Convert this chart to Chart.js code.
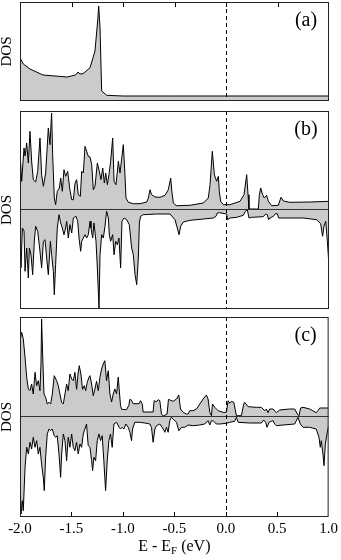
<!DOCTYPE html>
<html>
<head>
<meta charset="utf-8">
<script src="https://cdn.jsdelivr.net/npm/chart.js@4"></script>
<style>
  html, body { margin: 0; padding: 0; background: #fff; }
  #wrap { position: relative; width: 341px; height: 560px; overflow: hidden; }
  .panel { position: absolute; left: 0; width: 341px; }
</style>
</head>
<body>
<div id="wrap">
  <div class="panel" style="top:0"><canvas id="dosA" width="341" height="103"></canvas></div>
  <div class="panel" style="top:108px"><canvas id="dosB" width="341" height="202"></canvas></div>
  <div class="panel" style="top:314px"><canvas id="dosC" width="341" height="246"></canvas></div>
</div>
<script>
// x axis (eV)
const xTicks = [-2.0, -1.5, -1.0, -0.5, 0.0, 0.5, 1.0];
const fermiLevel = 0.0;
const panelLabels = ['(a)', '(b)', '(c)'];

// (a) single channel DOS
const aE   = [-2.0, -1.968, -1.903, -1.777, -1.544, -1.46, -1.437, -1.42, -1.388, -1.32, -1.272, -1.246, -1.236, -1.223, -1.207, -1.158, -1.0, -0.5, 0.0, 0.5, 1.0];
const aDos = [43, 37, 32, 26, 24, 26, 29, 27, 27.3, 33.3, 50, 80, 95, 73, 10, 5.7, 5, 5, 5, 5, 5];

// (b) spin up / spin down
const bUpE = [-2.000,-1.984,-1.961,-1.951,-1.935,-1.919,-1.903,-1.887,-1.871,-1.848,-1.828,-1.806,-1.790,-1.773,-1.751,-1.725,-1.709,-1.693,-1.683,-1.667,
  -1.654,-1.638,-1.618,-1.605,-1.589,-1.573,-1.557,-1.537,-1.518,-1.498,-1.482,-1.466,-1.450,-1.434,-1.414,-1.401,-1.385,-1.369,-1.353,-1.337,
  -1.320,-1.304,-1.288,-1.272,-1.249,-1.230,-1.214,-1.197,-1.181,-1.168,-1.152,-1.136,-1.120,-1.100,-1.087,-1.068,-1.045,-1.029,-1.013,-0.997,
  -0.981,-0.971,-0.948,-0.900,-0.835,-0.770,-0.754,-0.738,-0.722,-0.689,-0.641,-0.592,-0.560,-0.537,-0.524,-0.511,-0.495,-0.479,-0.350,-0.220,
  -0.172,-0.155,-0.133,-0.113,-0.091,-0.074,-0.065,-0.052,-0.026,0.039,0.136,0.175,0.201,0.214,0.223,0.314,0.324,0.337,0.356,0.372,
  0.395,0.411,0.443,0.508,0.534,0.557,0.621,0.816,1.000];
const bUp = [57.7,27.7,61,53,66,46,77.7,48,29.3,27,37.7,71,34.3,22.7,36,81,64.3,96,54.3,11,
  4.3,17.7,21,31,17.7,39.3,32.7,37.7,21,9.3,9.3,25.7,29.3,14.3,12.7,37.7,36,62.7,57.7,52.7,
  52,44.3,19.3,22.7,46,37.7,29.3,41,26,36,24.3,34.3,47.7,71,27.7,24.3,47.7,36,50,64.3,
  34.3,11,6.7,5.3,5.3,7,11,19.3,14.3,12,11.7,13.7,19.3,31,16,6,4.3,3.3,3.7,6,
  11,24.3,57.7,34.3,27.7,32.7,17.7,7.7,4.3,4.3,7.7,14.3,34.3,14.3,0,0,14.3,21,14.3,11,
  13.7,7.7,3.3,3.7,11.7,8,6.7,7,7.7];
const bDnE = [-2.000,-1.990,-1.977,-1.961,-1.951,-1.935,-1.919,-1.909,-1.893,-1.877,-1.861,-1.848,-1.828,-1.806,-1.790,-1.773,-1.757,-1.741,-1.725,-1.705,
  -1.693,-1.676,-1.667,-1.654,-1.638,-1.621,-1.605,-1.589,-1.573,-1.557,-1.547,-1.531,-1.515,-1.498,-1.482,-1.456,-1.440,-1.427,-1.411,-1.401,
  -1.385,-1.369,-1.353,-1.337,-1.320,-1.311,-1.294,-1.282,-1.262,-1.249,-1.233,-1.223,-1.207,-1.191,-1.175,-1.159,-1.142,-1.133,-1.120,-1.100,
  -1.087,-1.071,-1.055,-1.039,-1.023,-1.010,-0.990,-0.964,-0.939,-0.916,-0.900,-0.883,-0.867,-0.851,-0.841,-0.829,-0.803,-0.673,-0.544,-0.495,
  -0.473,-0.456,-0.440,-0.414,-0.350,-0.220,-0.123,-0.097,-0.084,-0.065,0.006,0.016,0.039,0.104,0.168,0.188,0.207,0.223,0.249,0.362,
  0.385,0.401,0.414,0.427,0.460,0.479,0.498,0.511,0.557,0.751,0.880,0.919,0.938,0.951,0.968,0.984,0.997,1.000];
const bDn = [-22.3,-58.7,-19,-22,-62.3,-39,-69,-39,-46,-65.7,-32.3,-17.3,-22.3,-42.3,-59,-32.3,-30.7,-49,-65.7,-32.3,
  -45.7,-62.3,-85.7,-55.7,-19,-5.7,-14,-19,-25.7,-19,-12.3,-29,-15.7,-24,-9,-7.3,-12.3,-29,-42.3,-32.3,
  -29,-25.7,-29,-25.7,-12.3,-19,-29,-14,-32.3,-59,-99,-45.7,-25.7,-29,-17.3,-2.3,-9,-25.7,-32.3,-25.7,
  -45.7,-32.3,-35.7,-29,-59,-12.3,-9,-10.7,-15.7,-39,-45.7,-65.7,-75.7,-49,-14,-7.3,-5.7,-5,-5,-10.7,
  -19,-25.7,-17.3,-13,-11.3,-10,-9,-7.3,-4,-3.7,-5,-10.7,-9,-8.3,-6.3,-2.3,-0.7,-9,-8.3,-7.7,
  -5,-5.7,-10.7,-9,-7.3,-4.7,-4.7,-9,-9,-9,-10.7,-14.7,-27.3,-17.3,-12.3,-32.3,-52.3,-60];

// (c) spin up / spin down
const cUpE = [-2.000,-1.984,-1.968,-1.951,-1.935,-1.919,-1.903,-1.887,-1.871,-1.854,-1.838,-1.822,-1.806,-1.796,-1.790,-1.780,-1.767,-1.751,-1.735,-1.718,
  -1.702,-1.686,-1.667,-1.644,-1.628,-1.612,-1.595,-1.579,-1.563,-1.547,-1.531,-1.515,-1.498,-1.482,-1.466,-1.450,-1.434,-1.424,-1.408,-1.392,
  -1.375,-1.362,-1.346,-1.330,-1.320,-1.304,-1.288,-1.272,-1.256,-1.239,-1.223,-1.207,-1.191,-1.175,-1.159,-1.142,-1.126,-1.110,-1.094,-1.078,
  -1.061,-1.045,-1.036,-1.023,-1.013,-0.964,-0.942,-0.932,-0.916,-0.900,-0.841,-0.829,-0.812,-0.803,-0.706,-0.696,-0.673,-0.657,-0.641,-0.625,
  -0.608,-0.570,-0.557,-0.537,-0.511,-0.479,-0.456,-0.440,-0.414,-0.382,-0.366,-0.350,-0.317,-0.285,-0.252,-0.220,-0.188,-0.172,-0.155,-0.139,
  -0.129,-0.107,-0.074,-0.026,0.006,0.023,0.039,0.055,0.078,0.091,0.104,0.152,0.175,0.184,0.217,0.298,0.346,0.379,0.395,0.411,
  0.427,0.460,0.492,0.524,0.621,0.670,0.696,0.712,0.728,0.751,0.816,0.880,0.896,0.913,1.000];
const cUp = [75.3,83.7,77,58.7,38.7,27,25.3,32,22,43.7,30.3,35.3,25.3,52,97,62,22,18.7,12,13.7,
  12,22,40.3,35.3,30.3,22,13.7,12,22,32,25.3,42,37,35.3,43.7,26.7,44,50.3,42,26.7,
  30.3,25.3,33.7,38.7,40.3,32,20.3,27,34.7,25.3,38.7,47,52,55.3,35.3,45.3,22,14,22,27,
  22,39,27,10.7,6.7,6.3,10.7,16.7,15.7,12.3,12.3,15.3,12.3,4,4,15.3,14.3,16.3,15.3,2,
  0,2,16.7,15.7,14.7,17,21,7,3.7,2,2,5.3,5.3,7,12,17,21,17,3.7,0.3,
  12,8.7,5.3,3.7,3.7,15.3,12.7,14.7,13.7,7,0.3,0.3,12,13.7,9.3,8.7,8.7,5.3,7,3.3,
  7,7,3.3,6,7,7,2,0.3,8,8.7,7,3.3,5.3,8,8];
const cDnE = [-2.000,-1.990,-1.977,-1.968,-1.951,-1.935,-1.919,-1.903,-1.887,-1.871,-1.854,-1.838,-1.822,-1.806,-1.790,-1.773,-1.764,-1.751,-1.735,-1.718,
  -1.702,-1.686,-1.667,-1.654,-1.638,-1.621,-1.605,-1.595,-1.579,-1.563,-1.547,-1.531,-1.515,-1.498,-1.482,-1.466,-1.450,-1.434,-1.417,-1.401,
  -1.385,-1.369,-1.353,-1.337,-1.320,-1.304,-1.294,-1.282,-1.265,-1.249,-1.233,-1.217,-1.201,-1.185,-1.168,-1.152,-1.136,-1.120,-1.104,-1.087,
  -1.061,-1.036,-1.023,-1.007,-0.990,-0.971,-0.948,-0.932,-0.916,-0.906,-0.884,-0.835,-0.786,-0.738,-0.722,-0.706,-0.689,-0.673,-0.641,-0.608,
  -0.592,-0.576,-0.560,-0.544,-0.528,-0.511,-0.479,-0.456,-0.430,-0.398,-0.366,-0.317,-0.252,-0.204,-0.172,-0.155,-0.139,-0.123,-0.091,-0.058,
  0.006,0.039,0.087,0.104,0.120,0.233,0.346,0.369,0.388,0.401,0.421,0.443,0.460,0.476,0.492,0.557,0.670,0.702,0.725,0.751,
  0.816,0.880,0.906,0.919,0.929,0.945,0.955,0.968,0.984,0.997];
const cDn = [-58,-98,-84.7,-94.7,-51.3,-31.3,-38,-26.3,-33,-21.3,-31.3,-24.7,-38,-31.3,-48,-62,-74.7,-41.3,-18,-13,
  -14.7,-13,-19.7,-21.3,-19.7,-38,-61.3,-38,-18,-24.7,-44.7,-21.3,-31.3,-18,-31.3,-34.7,-26.3,-38,-28,-31.3,
  -18,-13,-8,-29.7,-31.3,-44.7,-54.7,-41.3,-44.7,-24.7,-18,-24.7,-19.7,-44.7,-74.7,-44.7,-24.7,-18,-31.3,-8,
  -6.3,-11.3,-13,-11.3,-13,-8,-11.3,-16.3,-24.7,-13,-6.3,-6.3,-7,-8,-11.3,-26.3,-13,-9.7,-8,-13,
  -16.3,-11.3,-16.3,-4.7,-1.3,-3,-6.3,-14.7,-11.3,-11.3,-9,-9.7,-9,-8,-4.7,-9,-4.7,-4.7,-8,-8,
  -7.3,-6.3,-5.3,-1.3,-6.3,-7,-7,-4,-6.3,-11.3,-6.3,-5.3,-4.7,-8,-9.7,-9,-8,-1.3,-8,-11.3,
  -11.3,-13,-21.3,-31.3,-24.7,-38,-49.7,-28,-18,-11.3];

const serif = '"Liberation Serif", "DejaVu Serif", serif';
const fillGray = '#cbcbcb';

const toPts = (es, vs) => es.map((e, i) => ({ x: e, y: vs[i] }));

function dosSet(es, vs) {
  return {
    data: toPts(es, vs),
    borderColor: '#000',
    borderWidth: 1,
    borderJoinStyle: 'round',
    backgroundColor: fillGray,
    fill: 'origin',
    pointRadius: 0,
    tension: 0
  };
}

// rangka panel: tick ke dalam, garis nol, garis Fermi putus-putus, label
const panelDecor = {
  id: 'panelDecor',
  beforeDatasetsDraw(chart, args, opts) {
    const { ctx, chartArea: a, scales: { x } } = chart;
    ctx.save();
    ctx.strokeStyle = '#000';
    ctx.lineWidth = 1;
    xTicks.forEach(v => {
      if (v <= x.min || v >= x.max) return;
      const px = Math.round(x.getPixelForValue(v)) + 0.5;
      ctx.beginPath();
      if (opts.ticksTop)    { ctx.moveTo(px, a.top);    ctx.lineTo(px, a.top + 5); }
      if (opts.ticksBottom) { ctx.moveTo(px, a.bottom); ctx.lineTo(px, a.bottom - 5); }
      ctx.stroke();
    });
    ctx.restore();
  },
  afterDatasetsDraw(chart, args, opts) {
    const { ctx, chartArea: a, scales: { x, y } } = chart;
    ctx.save();
    ctx.strokeStyle = '#000';
    ctx.lineWidth = 1;

    if (opts.zeroLine) {
      const y0 = Math.round(y.getPixelForValue(0)) + 0.5;
      ctx.strokeStyle = '#333';
      ctx.beginPath();
      ctx.moveTo(a.left, y0); ctx.lineTo(a.right, y0);
      ctx.stroke();
      ctx.strokeStyle = '#000';
    }

    const xf = Math.round(x.getPixelForValue(fermiLevel)) + 0.5;
    ctx.setLineDash([4, 3]);
    ctx.beginPath();
    ctx.moveTo(xf, a.top); ctx.lineTo(xf, a.bottom);
    ctx.stroke();
    ctx.setLineDash([]);

    ctx.strokeStyle = '#222';
    ctx.strokeRect(a.left + 0.5, a.top + 0.5, a.right - a.left - 1, a.bottom - a.top - 1);

    if (opts.label) {
      ctx.fillStyle = '#000';
      ctx.font = '20px ' + serif;
      ctx.textAlign = 'center';
      ctx.textBaseline = 'middle';
      ctx.fillText(opts.label, a.right - 23, a.top + 19);
    }

    // judul sumbu x dengan subskrip F
    if (opts.xTitle) {
      const main = '16px ' + serif, sub = '11px ' + serif;
      const p1 = 'E - E', p2 = 'F', p3 = ' (eV)';
      ctx.font = main; const w1 = ctx.measureText(p1).width, w3 = ctx.measureText(p3).width;
      ctx.font = sub;  const w2 = ctx.measureText(p2).width;
      let cx = (a.left + a.right) / 2 - (w1 + w2 + w3) / 2;
      const base = chart.height - 9;
      ctx.textAlign = 'left';
      ctx.textBaseline = 'alphabetic';
      ctx.fillStyle = '#000';
      ctx.font = main; ctx.fillText(p1, cx, base); cx += w1;
      ctx.font = sub;  ctx.fillText(p2, cx, base + 3); cx += w2;
      ctx.font = main; ctx.fillText(p3, cx, base);
    }
    ctx.restore();
  }
};

function makePanel(canvasId, datasets, opts) {
  return new Chart(document.getElementById(canvasId), {
    type: 'line',
    data: { datasets },
    options: {
      responsive: false,
      animation: false,
      devicePixelRatio: 1,
      layout: { padding: { left: 0, right: 12, top: opts.padTop, bottom: opts.padBottom } },
      plugins: {
        legend: { display: false },
        tooltip: { enabled: false },
        panelDecor: {
          label: opts.label,
          zeroLine: opts.zeroLine,
          xTitle: opts.showX,
          ticksTop: opts.ticksTop,
          ticksBottom: opts.showX
        }
      },
      scales: {
        x: {
          type: 'linear',
          min: xTicks[0],
          max: xTicks[xTicks.length - 1],
          display: opts.showX,
          grid: { display: false, drawTicks: false },
          border: { display: false },
          afterBuildTicks: s => { s.ticks = xTicks.map(v => ({ value: v })); },
          afterFit: s => { if (opts.showX) s.height = 43; },
          ticks: {
            autoSkip: false,
            maxRotation: 0,
            padding: 3,
            color: '#000',
            font: { family: serif, size: 15 },
            callback: v => Number(v).toFixed(1)
          }
        },
        y: {
          min: opts.yMin,
          max: opts.yMax,
          grid: { display: false },
          border: { display: false },
          ticks: { display: false },
          afterFit: s => { s.width = 20; },
          title: {
            display: true,
            text: 'DOS',
            color: '#000',
            font: { family: serif, size: 15, lineHeight: 1 },
            padding: { top: 0, bottom: 0 }
          }
        }
      }
    },
    plugins: [panelDecor]
  });
}

makePanel('dosA', [dosSet(aE, aDos)],
  { label: panelLabels[0], zeroLine: false, showX: false, ticksTop: true, yMin: 0, yMax: 99, padTop: 2, padBottom: 2 });
makePanel('dosB', [dosSet(bUpE, bUp), dosSet(bDnE, bDn)],
  { label: panelLabels[1], zeroLine: true, showX: false, ticksTop: false, yMin: -100, yMax: 98, padTop: 3, padBottom: 1 });
makePanel('dosC', [dosSet(cUpE, cUp), dosSet(cDnE, cDn)],
  { label: panelLabels[2], zeroLine: true, showX: true, ticksTop: false, yMin: -101, yMax: 99, padTop: 3, padBottom: 0 });
</script>
</body>
</html>
